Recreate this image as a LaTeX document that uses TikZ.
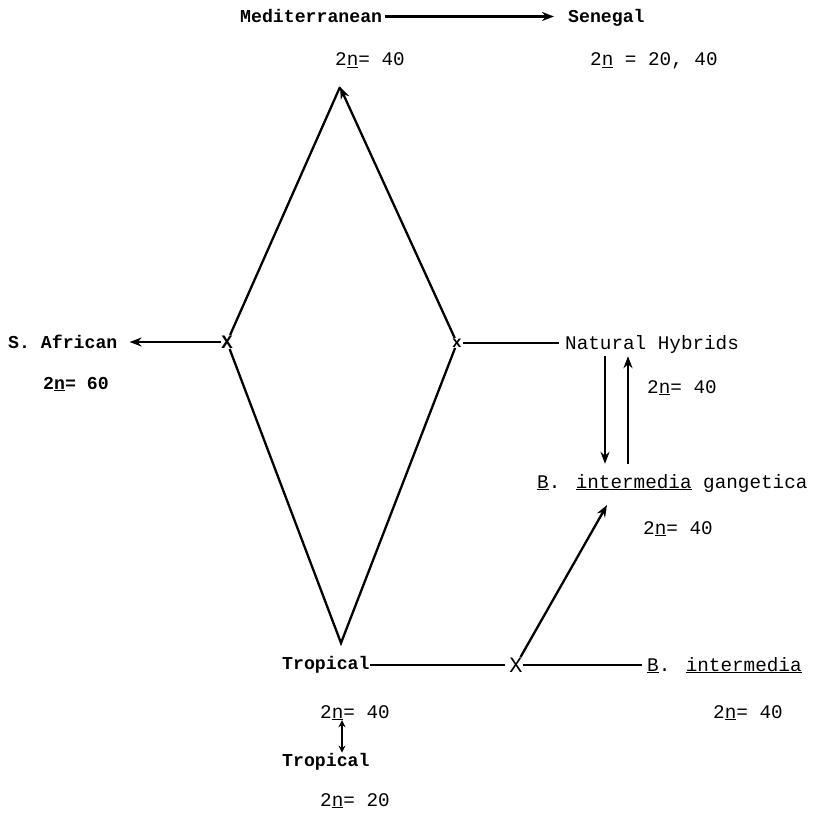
\documentclass[tikz,border=0pt]{standalone}
\usepackage{fontspec}
\setmainfont{Liberation Mono}
\usetikzlibrary{arrows.meta}

\begin{document}
\begin{tikzpicture}[x=1pt, y=-1pt,
  lbl/.style={font=\fontsize{19.3}{22}\selectfont, inner sep=0pt,
              anchor=base west},
  blbl/.style={lbl, font=\fontsize{18.2}{21}\selectfont\bfseries},
  cross/.style={inner sep=0.5pt, font=\fontsize{19}{22}\selectfont},
  link/.style={line width=2.3pt},
  arr/.style={link, -{Stealth[length=12pt, width=9pt]}},
]
\def\tn{2\underline{n}}
\useasboundingbox (0,0) rectangle (814,816);

% top row
\node[blbl] (med) at (240,23) {Mediterranean};
\node[blbl] (sen) at (568,23) {Senegal};
\node[lbl] (cmed) at (335,66) {\tn= 40};
\node[lbl] (csen) at (590,66) {\tn{} = 20, 40};

% left and right of the diamond
\node[blbl] (safr) at (8,348) {S. African};
\node[blbl] (csafr) at (43,389) {\tn= 60};
\node[lbl] (nat) at (565,349) {Natural Hybrids};
\node[lbl] (cnat) at (647,393) {\tn= 40};
\node[lbl] (gang) at (537,488) {\underline{B}. \underline{intermedia} gangetica};
\node[lbl] (cgang) at (643,534) {\tn= 40};

% bottom rows
\node[blbl] (trop) at (282,669) {Tropical};
\node[lbl] (bint) at (647,671) {\underline{B}. \underline{intermedia}};
\node[lbl] (ctrop) at (320,718) {\tn= 40};
\node[lbl] (cbint) at (713,718) {\tn= 40};
\node[blbl] (tropb) at (282,766) {Tropical};
\node[lbl] (ctropb) at (320,806) {\tn= 20};

% crosses
\node[cross, font=\fontsize{19}{22}\selectfont\bfseries] (lx) at (227,342) {X};
\node[cross, font=\fontsize{16}{20}\selectfont\bfseries] (rx) at (457,343) {x};
\node[cross, font=\fontsize{22}{24}\selectfont] (bx) at (516,665) {X};

\coordinate (top) at (340,87);
\coordinate (bot) at (341,643);
\coordinate (gtip) at (607,505);
\coordinate (dnx) at (605,0);
\coordinate (upx) at (628,0);
\coordinate (dax) at (342,0);

% diamond
\draw[link] (lx) -- (top);
\draw[arr] (rx) -- (top);
\draw[link, line join=miter] (lx) -- (bot) -- (rx);

\draw[arr, shorten <=3pt, shorten >=14pt] (med.east) -- (sen.west |- med.east);
\draw[arr, shorten >=12pt] (lx) -- (safr.east |- lx);
\draw[link, shorten <=6pt] (nat.west |- rx) -- (rx);
\draw[arr, shorten <=3pt, shorten >=10pt] (nat.south -| dnx) -- (gang.north -| dnx);
\draw[arr, shorten <=10pt, shorten >=3pt] (gang.north -| upx) -- (nat.south -| upx);

\draw[link, shorten >=4pt] (trop.east |- bx) -- (bx);
\draw[link, shorten >=5pt] (bx) -- (bint.west |- bx);
\draw[arr] (bx) -- (gtip);
\draw[link, {Stealth[length=7pt, width=7pt]}-{Stealth[length=7pt, width=7pt]}]
  (ctrop.south -| dax) -- (tropb.north -| dax);
\end{tikzpicture}
\end{document}
